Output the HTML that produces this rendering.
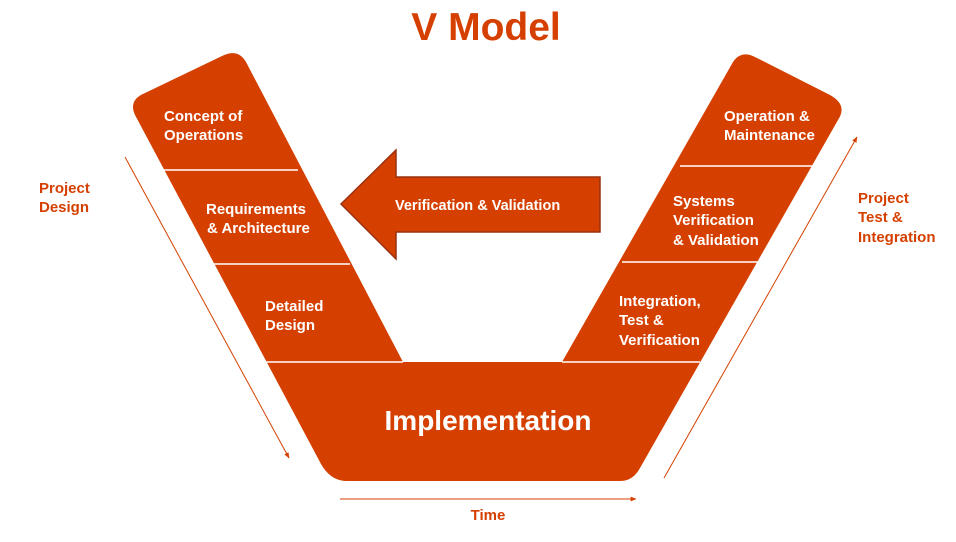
<!DOCTYPE html>
<html><head><meta charset="utf-8"><style>
body{margin:0;background:#fff;}
svg text{font-family:"Liberation Sans",sans-serif;font-weight:bold;}
</style></head><body>
<svg width="956" height="537" viewBox="0 0 956 537" xmlns="http://www.w3.org/2000/svg">
<defs>
<marker id="ah" viewBox="0 0 10 10" refX="9" refY="5" markerWidth="6" markerHeight="6" orient="auto"><path d="M0,1 L10,5 L0,9 z" fill="#D54000"/></marker>
</defs>
<text x="486" y="40" font-size="39" fill="#D54000" text-anchor="middle">V Model</text>
<path d="M135,115 Q128,100 145,93 L222,56 Q238,48 246,62 L403,362 L562,362 L733,62 Q741,50 755,57 L830,95 Q848,105 838,120 L640,468 Q633,481 620,481 L345,481 Q330,480 321,464 Z" fill="#D54000"/>
<g stroke="#fff" stroke-width="1.5">
<line x1="162" y1="170" x2="298" y2="170"/>
<line x1="213" y1="264" x2="350" y2="264"/>
<line x1="265" y1="362" x2="403" y2="362"/>
<line x1="680" y1="166" x2="815" y2="166"/>
<line x1="622" y1="262" x2="758" y2="262"/>
<line x1="562" y1="362" x2="700" y2="362"/>
</g>
<path d="M341,204 L396,150 L396,177 L600,177 L600,232 L396,232 L396,259 Z" fill="#D54000" stroke="#9a3010" stroke-width="1.5"/>
<g fill="#fff" font-size="15">
<text x="164" y="121">Concept of</text><text x="164" y="140">Operations</text>
<text x="206" y="214">Requirements</text><text x="207" y="233">&amp; Architecture</text>
<text x="265" y="311">Detailed</text><text x="265" y="330">Design</text>
<text x="395" y="210" font-size="14.5">Verification &amp; Validation</text>
<text x="724" y="121">Operation &amp;</text><text x="724" y="140">Maintenance</text>
<text x="673" y="206">Systems</text><text x="673" y="225">Verification</text><text x="673" y="245">&amp; Validation</text>
<text x="619" y="306">Integration,</text><text x="619" y="325">Test &amp;</text><text x="619" y="345">Verification</text>
<text x="488" y="430" font-size="28" text-anchor="middle">Implementation</text>
</g>
<g fill="#D54000" font-size="15">
<text x="39" y="193">Project</text><text x="39" y="212">Design</text>
<text x="858" y="203">Project</text><text x="858" y="222">Test &amp;</text><text x="858" y="242">Integration</text>
<text x="488" y="520" text-anchor="middle">Time</text>
</g>
<g stroke="#D54000" stroke-width="1" fill="none">
<line x1="125" y1="157" x2="289" y2="458" marker-end="url(#ah)"/>
<line x1="664" y1="478" x2="857" y2="137" marker-end="url(#ah)"/>
<line x1="340" y1="499" x2="636" y2="499" marker-end="url(#ah)"/>
</g>
</svg>
</body></html>
